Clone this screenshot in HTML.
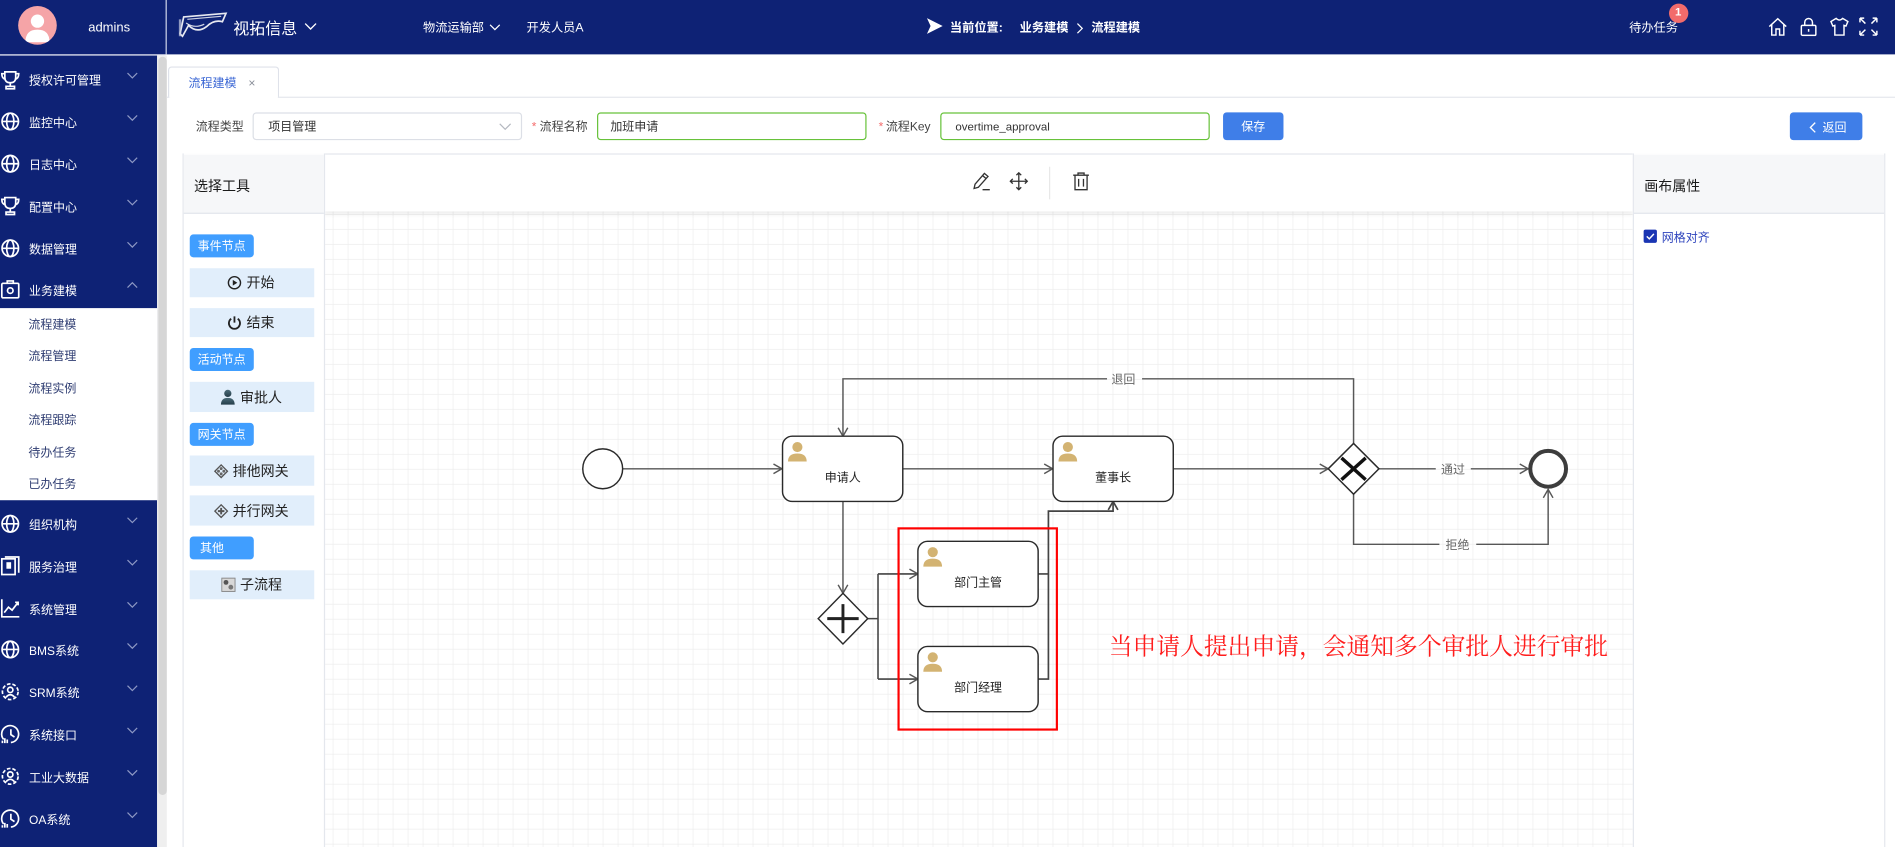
<!DOCTYPE html>
<html><head><meta charset="utf-8">
<style>
html,body{margin:0;padding:0;width:1895px;height:847px;overflow:hidden;background:#fff;}
#r{position:absolute;left:0;top:0;width:1568px;height:701px;transform:scale(1.20855,1.20827);transform-origin:0 0;font-family:"Liberation Sans","Noto Sans CJK SC",sans-serif;}
.a{position:absolute;white-space:nowrap;}
.t{position:absolute;white-space:nowrap;height:20px;line-height:24px;}
.si{position:absolute;left:24px;height:20px;line-height:25px;font-size:9.93px;color:#fff;white-space:nowrap;}
.ss{position:absolute;left:23.5px;height:20px;line-height:24px;font-size:9.93px;color:#2f3d72;white-space:nowrap;}
.ic{position:absolute;left:0px;width:17px;height:17px;}
.cv{position:absolute;left:105px;width:9px;height:6px;}
.tag{position:absolute;left:156.5px;width:53.5px;height:19px;line-height:21px;background:#409eff;border-radius:3px;color:#fff;font-size:9.93px;padding-left:0;}
.tag span{position:absolute;left:7px;top:0;}
.itm{position:absolute;left:156.5px;width:103.5px;height:24.5px;background:#e1eefb;}
.it{position:absolute;height:20px;line-height:23px;font-size:11.58px;color:#222;white-space:nowrap;}
</style></head><body>
<div id="r">

<!-- HEADER -->
<div class="a" style="left:0;top:0;width:1568px;height:45px;background:#0e2275"></div>
<div class="a" style="left:137px;top:0;width:1px;height:45px;background:#cfd4ea"></div>
<div class="a" style="left:0;top:45px;width:137px;height:1px;background:#e6e8f2"></div>
<div class="a" style="left:15px;top:5px;width:32px;height:32px;border-radius:50%;background:#f5a4a7;overflow:hidden">
<svg width="32" height="32" viewBox="0 0 32 32"><circle cx="16" cy="12.5" r="5.5" fill="#fff"/><path d="M6 30 Q6 19.5 16 19.5 Q26 19.5 26 30 Z" fill="#fff"/></svg></div>
<div class="t" style="left:73px;top:11px;font-size:10.76px;color:#fff">admins</div>
<svg class="a" style="left:147px;top:8px" width="44" height="26" viewBox="0 0 44 26">
<path d="M5 6 L40 3 L37 10 Q30 8 24 14 Q16 20 9 13 L4 22 L2 20 Z" fill="none" stroke="#fff" stroke-width="1.4" opacity=".9"/>
<path d="M8 8 L36 5.5 M7 11 Q14 16 22 12" stroke="#fff" stroke-width="1" fill="none" opacity=".8"/>
<path d="M2 8 V22" stroke="#c8cce0" stroke-width="2" opacity=".7"/></svg>
<div class="t" style="left:193px;top:12px;font-size:13.24px;color:#fff">视拓信息</div>
<svg class="a" style="left:252px;top:19px" width="10" height="6"><polyline points="0.5,0.5 5,5 9.5,0.5" fill="none" stroke="#fff" stroke-width="1.1"/></svg>
<div class="t" style="left:350px;top:12px;font-size:10.1px;color:#fff">物流运输部</div>
<svg class="a" style="left:405px;top:20px" width="9" height="6"><polyline points="0.5,0.5 4.5,4.5 8.5,0.5" fill="none" stroke="#fff" stroke-width="1"/></svg>
<div class="t" style="left:435.7px;top:12px;font-size:10.1px;color:#fff">开发人员A</div>
<svg class="a" style="left:766px;top:14px" width="15" height="15"><polygon points="1,1 14,7.5 1,14 4,7.5" fill="#fff"/></svg>
<div class="t" style="left:786px;top:12px;font-size:10.1px;color:#fff;font-weight:bold">当前位置:</div>
<div class="t" style="left:843.7px;top:12px;font-size:10.1px;color:#fff;font-weight:bold">业务建模</div>
<svg class="a" style="left:891px;top:18.5px" width="6" height="9"><polyline points="0.5,0.5 4.5,4.5 0.5,8.5" fill="none" stroke="#fff" stroke-width="1"/></svg>
<div class="t" style="left:903px;top:12px;font-size:10.1px;color:#fff;font-weight:bold">流程建模</div>
<div class="t" style="left:1348px;top:12px;font-size:10.1px;color:#fff">待办任务</div>
<div class="a" style="left:1380.6px;top:3px;width:16px;height:16px;border-radius:50%;background:#f26b6b;color:#fff;font-size:9.5px;line-height:16px;text-align:center;font-weight:bold">1</div>
<svg class="a" style="left:1463px;top:13.5px" width="16" height="16" viewBox="0 0 16 16" fill="none" stroke="#fff" stroke-width="1.2"><path d="M1 8 L8 1.5 L15 8 M3 6.5 V15 H6.5 V10 H9.5 V15 H13 V6.5"/></svg>
<svg class="a" style="left:1489px;top:13.5px" width="15" height="16" viewBox="0 0 15 16" fill="none" stroke="#fff" stroke-width="1.2"><rect x="1.5" y="7" width="12" height="8.3" rx="1"/><path d="M4.3 7 V4.5 A3.2 3.2 0 0 1 10.7 4.5 V7 M7.5 10 V12.3"/></svg>
<svg class="a" style="left:1513.5px;top:13.5px" width="16" height="16" viewBox="0 0 16 16" fill="none" stroke="#fff" stroke-width="1.2"><path d="M5.3 1.2 L1 3.8 L2.6 7.6 L4.2 7 V15 H11.8 V7 L13.4 7.6 L15 3.8 L10.7 1.2 Q8 4 5.3 1.2 Z"/></svg>
<svg class="a" style="left:1538px;top:13.5px" width="16" height="16" viewBox="0 0 16 16" fill="none" stroke="#fff" stroke-width="1.2"><path d="M1 1 L5.5 5.5 M1 1 H4.5 M1 1 V4.5 M15 1 L10.5 5.5 M15 1 H11.5 M15 1 V4.5 M1 15 L5.5 10.5 M1 15 H4.5 M1 15 V11.5 M15 15 L10.5 10.5 M15 15 H11.5 M15 15 V11.5"/></svg>

<!-- SIDEBAR -->
<div class="a" style="left:0;top:46px;width:130px;height:655px;background:#0e2275"></div>
<div class="a" style="left:0;top:255px;width:130px;height:159px;background:#fff"></div>
<div class="a" style="left:130px;top:46px;width:8px;height:655px;background:#efefef"></div>
<div class="a" style="left:130.5px;top:47px;width:7px;height:611px;background:#d6d6d6;border-radius:3.5px"></div>

<svg class="ic" style="top:57.5px" viewBox="0 0 17 17" fill="none" stroke="#fff" stroke-width="1.4"><path d="M4 1.5 H13 V6 Q13 10.5 8.5 10.5 Q4 10.5 4 6 Z M4 3 H1.5 Q1.5 7 4.5 7.5 M13 3 H15.5 Q15.5 7 12.5 7.5 M8.5 10.5 V13.5 M5 15.5 H12 V13.5 H5 Z"/></svg>
<div class="si" style="top:55.4px">授权许可管理</div>
<svg class="cv" style="top:60.4px"><polyline points="0.5,0.5 4.5,4.5 8.5,0.5" fill="none" stroke="#8d98c4" stroke-width="1"/></svg>

<svg class="ic" style="top:92.2px" viewBox="0 0 17 17" fill="none" stroke="#fff" stroke-width="1.4"><circle cx="8.5" cy="8.5" r="6.8"/><ellipse cx="8.5" cy="8.5" rx="3" ry="6.8"/><path d="M1.7 8.5 H15.3"/></svg>
<div class="si" style="top:90.2px">监控中心</div>
<svg class="cv" style="top:95.2px"><polyline points="0.5,0.5 4.5,4.5 8.5,0.5" fill="none" stroke="#8d98c4" stroke-width="1"/></svg>

<svg class="ic" style="top:127px" viewBox="0 0 17 17" fill="none" stroke="#fff" stroke-width="1.4"><circle cx="8.5" cy="8.5" r="6.8"/><ellipse cx="8.5" cy="8.5" rx="3" ry="6.8"/><path d="M1.7 8.5 H15.3"/></svg>
<div class="si" style="top:125px">日志中心</div>
<svg class="cv" style="top:130px"><polyline points="0.5,0.5 4.5,4.5 8.5,0.5" fill="none" stroke="#8d98c4" stroke-width="1"/></svg>

<svg class="ic" style="top:162px" viewBox="0 0 17 17" fill="none" stroke="#fff" stroke-width="1.4"><path d="M4 1.5 H13 V6 Q13 10.5 8.5 10.5 Q4 10.5 4 6 Z M4 3 H1.5 Q1.5 7 4.5 7.5 M13 3 H15.5 Q15.5 7 12.5 7.5 M8.5 10.5 V13.5 M5 15.5 H12 V13.5 H5 Z"/></svg>
<div class="si" style="top:160px">配置中心</div>
<svg class="cv" style="top:165px"><polyline points="0.5,0.5 4.5,4.5 8.5,0.5" fill="none" stroke="#8d98c4" stroke-width="1"/></svg>

<svg class="ic" style="top:196.7px" viewBox="0 0 17 17" fill="none" stroke="#fff" stroke-width="1.4"><circle cx="8.5" cy="8.5" r="6.8"/><ellipse cx="8.5" cy="8.5" rx="3" ry="6.8"/><path d="M1.7 8.5 H15.3"/></svg>
<div class="si" style="top:194.7px">数据管理</div>
<svg class="cv" style="top:199.7px"><polyline points="0.5,0.5 4.5,4.5 8.5,0.5" fill="none" stroke="#8d98c4" stroke-width="1"/></svg>

<svg class="ic" style="top:231.4px" viewBox="0 0 17 17" fill="none" stroke="#fff" stroke-width="1.4"><rect x="1.5" y="3.5" width="14" height="12" rx="1"/><path d="M6 3.5 V1.5 H11 V3.5"/><circle cx="8.5" cy="9.5" r="2.3"/></svg>
<div class="si" style="top:229.4px">业务建模</div>
<svg class="cv" style="top:233.4px"><polyline points="0.5,5 4.5,1 8.5,5" fill="none" stroke="#8d98c4" stroke-width="1"/></svg>

<div class="ss" style="top:257.6px">流程建模</div>
<div class="ss" style="top:284.3px">流程管理</div>
<div class="ss" style="top:310.8px">流程实例</div>
<div class="ss" style="top:337px">流程跟踪</div>
<div class="ss" style="top:363.7px">待办任务</div>
<div class="ss" style="top:390px">已办任务</div>

<svg class="ic" style="top:425px" viewBox="0 0 17 17" fill="none" stroke="#fff" stroke-width="1.4"><circle cx="8.5" cy="8.5" r="6.8"/><ellipse cx="8.5" cy="8.5" rx="3" ry="6.8"/><path d="M1.7 8.5 H15.3"/></svg>
<div class="si" style="top:423px">组织机构</div>
<svg class="cv" style="top:428px"><polyline points="0.5,0.5 4.5,4.5 8.5,0.5" fill="none" stroke="#8d98c4" stroke-width="1"/></svg>

<svg class="ic" style="top:460px" viewBox="0 0 17 17" fill="none" stroke="#fff" stroke-width="1.4"><rect x="1.5" y="2.5" width="11" height="13"/><path d="M4 1 H15.5 V14"/><rect x="6" y="6" width="2.5" height="4" fill="#fff"/></svg>
<div class="si" style="top:458px">服务治理</div>
<svg class="cv" style="top:463px"><polyline points="0.5,0.5 4.5,4.5 8.5,0.5" fill="none" stroke="#8d98c4" stroke-width="1"/></svg>

<svg class="ic" style="top:494.5px" viewBox="0 0 17 17" fill="none" stroke="#fff" stroke-width="1.4"><path d="M1.5 1 V15.5 H16 M3.5 12 L7 7.5 L10 10 L15 3.5 M12.5 3.5 H15 V6"/></svg>
<div class="si" style="top:492.6px">系统管理</div>
<svg class="cv" style="top:497.6px"><polyline points="0.5,0.5 4.5,4.5 8.5,0.5" fill="none" stroke="#8d98c4" stroke-width="1"/></svg>

<svg class="ic" style="top:529.3px" viewBox="0 0 17 17" fill="none" stroke="#fff" stroke-width="1.4"><circle cx="8.5" cy="8.5" r="6.8"/><ellipse cx="8.5" cy="8.5" rx="3" ry="6.8"/><path d="M1.7 8.5 H15.3"/></svg>
<div class="si" style="top:527.3px">BMS系统</div>
<svg class="cv" style="top:532.3px"><polyline points="0.5,0.5 4.5,4.5 8.5,0.5" fill="none" stroke="#8d98c4" stroke-width="1"/></svg>

<svg class="ic" style="top:564.4px" viewBox="0 0 17 17" fill="none" stroke="#fff" stroke-width="1.4"><circle cx="8.5" cy="8.5" r="6.5" stroke-dasharray="3 1.6"/><circle cx="8.5" cy="7" r="2.2"/><path d="M5 13 Q8.5 9 12 13"/></svg>
<div class="si" style="top:562.4px">SRM系统</div>
<svg class="cv" style="top:567.4px"><polyline points="0.5,0.5 4.5,4.5 8.5,0.5" fill="none" stroke="#8d98c4" stroke-width="1"/></svg>

<svg class="ic" style="top:599px" viewBox="0 0 17 17" fill="none" stroke="#fff" stroke-width="1.4"><path d="M3 13 A7 7 0 1 1 9 15.5 M9 4.5 V9 L12 11 M2 16 V14 M4 16 V12 M6 16 V13"/></svg>
<div class="si" style="top:597px">系统接口</div>
<svg class="cv" style="top:602px"><polyline points="0.5,0.5 4.5,4.5 8.5,0.5" fill="none" stroke="#8d98c4" stroke-width="1"/></svg>

<svg class="ic" style="top:634px" viewBox="0 0 17 17" fill="none" stroke="#fff" stroke-width="1.4"><circle cx="8.5" cy="8.5" r="6.5" stroke-dasharray="3 1.6"/><circle cx="8.5" cy="7" r="2.2"/><path d="M5 13 Q8.5 9 12 13"/></svg>
<div class="si" style="top:632px">工业大数据</div>
<svg class="cv" style="top:637px"><polyline points="0.5,0.5 4.5,4.5 8.5,0.5" fill="none" stroke="#8d98c4" stroke-width="1"/></svg>

<svg class="ic" style="top:668.5px" viewBox="0 0 17 17" fill="none" stroke="#fff" stroke-width="1.4"><path d="M3 13 A7 7 0 1 1 9 15.5 M9 4.5 V9 L12 11 M2 16 V14 M4 16 V12 M6 16 V13"/></svg>
<div class="si" style="top:666.6px">OA系统</div>
<svg class="cv" style="top:671.6px"><polyline points="0.5,0.5 4.5,4.5 8.5,0.5" fill="none" stroke="#8d98c4" stroke-width="1"/></svg>

<!-- TAB -->
<div class="a" style="left:139px;top:54.6px;width:90px;height:25.4px;border:1px solid #dfe2ea;border-bottom:none;border-radius:3px 3px 0 0;background:#fff"></div>
<div class="a" style="left:230px;top:80px;width:1338px;height:1px;background:#e4e7ed"></div>
<div class="a" style="left:138px;top:80px;width:2px;height:1px;background:#e4e7ed"></div>
<div class="t" style="left:156px;top:58.4px;font-size:9.93px;color:#3a66d4">流程建模</div>
<div class="t" style="left:205.5px;top:58.4px;font-size:10px;color:#8a8f99">×</div>

<!-- FORM -->
<div class="t" style="left:162px;top:94px;font-size:9.93px;color:#444">流程类型</div>
<div class="a" style="left:209px;top:93px;width:221px;height:21px;border:1px solid #dcdfe6;border-radius:3px;background:#fff"></div>
<div class="t" style="left:222px;top:94px;font-size:9.93px;color:#333">项目管理</div>
<svg class="a" style="left:413px;top:101.5px" width="10" height="6"><polyline points="0.5,0.5 5,5 9.5,0.5" fill="none" stroke="#b4b8c0" stroke-width="1"/></svg>
<div class="t" style="left:440px;top:94px;font-size:9.93px;color:#f56c6c">*</div>
<div class="t" style="left:446.5px;top:94px;font-size:9.93px;color:#444">流程名称</div>
<div class="a" style="left:493.8px;top:93px;width:221px;height:21px;border:1px solid #67c23a;border-radius:3px;background:#fff"></div>
<div class="t" style="left:505px;top:94px;font-size:9.93px;color:#333">加班申请</div>
<div class="t" style="left:727px;top:94px;font-size:9.93px;color:#f56c6c">*</div>
<div class="t" style="left:733px;top:94px;font-size:9.93px;color:#444">流程Key</div>
<div class="a" style="left:777.8px;top:93px;width:221px;height:21px;border:1px solid #67c23a;border-radius:3px;background:#fff"></div>
<div class="t" style="left:790.5px;top:94px;font-size:9.5px;color:#333">overtime_approval</div>
<div class="a" style="left:1012px;top:93px;width:50px;height:23px;background:#3f7ee8;border-radius:3px;color:#fff;font-size:9.93px;line-height:25px;text-align:center">保存</div>
<div class="a" style="left:1481px;top:93px;width:60px;height:23px;background:#3f7ee8;border-radius:3px"></div>
<svg class="a" style="left:1497px;top:100.5px" width="6" height="9"><polyline points="5,0.5 1,4.5 5,8.5" fill="none" stroke="#fff" stroke-width="1.1"/></svg>
<div class="t" style="left:1508px;top:94.5px;font-size:9.93px;color:#fff">返回</div>

<div class="a" style="left:151px;top:127px;width:1408px;height:1px;background:#e4e7ed"></div>

<!-- CANVAS GRID + DIAGRAM -->
<svg class="a" style="left:0;top:0" width="1568" height="701" viewBox="0 0 1568 701">
<defs><pattern id="gp" patternUnits="userSpaceOnUse" x="275.3" y="177.1" width="12.41" height="12.41"><path d="M0 0V12.41M0 0H12.41" stroke="#eeeeee" stroke-width="1.2" fill="none"/></pattern></defs>
<rect x="268" y="175" width="1083" height="526" fill="#fff"/>
<rect x="268" y="175" width="1083" height="526" fill="url(#gp)"/>

<g fill="none" stroke="#575757" stroke-width="1.2">
<path d="M515 388H647"/><path d="M640 384L647 388L640 392"/>
<path d="M747 388H871"/><path d="M864 384L871 388L864 392"/>
<path d="M971 388H1099"/><path d="M1092 384L1099 388L1092 392"/>
<path d="M1141 388H1188M1217 388H1264.5"/><path d="M1257.5 384L1264.5 388L1257.5 392"/>
<path d="M1120 367V313.5H945M916 313.5H697.5V361"/><path d="M693.5 354L697.5 361L701.5 354"/>
<path d="M1120 409V450.5H1191M1221.5 450.5H1281V405"/><path d="M1277 412L1281 405L1285 412"/>
<path d="M697.5 415V491"/><path d="M693.5 484L697.5 491L701.5 484"/>
<path d="M718 512H726.5M726.5 475V562M726.5 475H759.5M726.5 562H759.5" stroke="#444" stroke-width="1.3"/>
<path d="M752.5 471L759.5 475L752.5 479"/><path d="M752.5 558L759.5 562L752.5 566"/>
<path d="M859 475H867.5M859 562H867.5V423H921V415" stroke="#444" stroke-width="1.4"/>
<path d="M917 422L921 415L925 422" stroke="#444" stroke-width="1.4"/>
</g>

<g fill="#fff" stroke="#2a2a2a" stroke-width="1.2">
<rect x="647.5" y="361" width="99.5" height="54" rx="8"/>
<rect x="871.3" y="361" width="99.5" height="54" rx="8"/>
<rect x="759.5" y="448" width="99.5" height="54" rx="8"/>
<rect x="759.5" y="535" width="99.5" height="54" rx="8"/>
<circle cx="498.7" cy="388" r="16.5"/>
<polygon points="1120,367 1141,388 1120,409 1099,388"/>
<polygon points="697.5,491 718,512 697.5,533 677,512"/>
</g>
<circle cx="1281" cy="388" r="14.8" fill="#fff" stroke="#3d3d3d" stroke-width="3.3"/>
<path d="M1110 379L1130 397M1130 379L1110 397" stroke="#111" stroke-width="2.8"/>
<path d="M684.5 512H710.5M697.5 500V524" stroke="#222" stroke-width="2.4"/>

<g fill="#d3b372">
<g transform="translate(647.5,361)"><circle cx="12.3" cy="9" r="4.2"/><path d="M4.5 21Q4.5 14.3 12.3 14.3Q20 14.3 20 21Z"/></g>
<g transform="translate(871.3,361)"><circle cx="12.3" cy="9" r="4.2"/><path d="M4.5 21Q4.5 14.3 12.3 14.3Q20 14.3 20 21Z"/></g>
<g transform="translate(759.5,448)"><circle cx="12.3" cy="9" r="4.2"/><path d="M4.5 21Q4.5 14.3 12.3 14.3Q20 14.3 20 21Z"/></g>
<g transform="translate(759.5,535)"><circle cx="12.3" cy="9" r="4.2"/><path d="M4.5 21Q4.5 14.3 12.3 14.3Q20 14.3 20 21Z"/></g>
</g>

<g font-family="Liberation Sans, Noto Sans CJK SC, sans-serif" font-size="9.93" text-anchor="middle" dominant-baseline="central" fill="#222">
<text x="697.3" y="395">申请人</text>
<text x="921" y="395">董事长</text>
<text x="809.3" y="482">部门主管</text>
<text x="809.3" y="569">部门经理</text>
<text x="929.5" y="314" fill="#666">退回</text>
<text x="1202.3" y="388.5" fill="#666">通过</text>
<text x="1206" y="451" fill="#666">拒绝</text>
</g>

<rect x="743.5" y="437.3" width="131" height="166.5" fill="none" stroke="#ff0000" stroke-width="1.8"/>
<text x="917.5" y="541.8" font-family="Noto Serif CJK SC, Liberation Serif, serif" font-size="19.7" fill="#ff1c1c" textLength="413" lengthAdjust="spacingAndGlyphs">当申请人提出申请，会通知多个审批人进行审批</text>
</svg>

<!-- CANVAS TOOLBAR -->
<div class="a" style="left:268px;top:128px;width:1083px;height:47px;background:#fff;box-shadow:0 2px 4px rgba(0,0,0,0.08)"></div>
<svg class="a" style="left:804px;top:142px" width="16" height="16" viewBox="0 0 16 16" fill="none" stroke="#333" stroke-width="1.1"><path d="M10.5 1.5 L13.5 4 L5.5 13 L2 14 L2.8 10.4 Z M9 3.3 L12 5.8 M9 15 H15"/></svg>
<svg class="a" style="left:834.5px;top:142px" width="16" height="16" viewBox="0 0 16 16" fill="none" stroke="#333" stroke-width="1.1"><path d="M8 1 V15 M1 8 H15 M6 3 L8 1 L10 3 M6 13 L8 15 L10 13 M3 6 L1 8 L3 10 M13 6 L15 8 L13 10"/></svg>
<div class="a" style="left:868px;top:138px;width:1px;height:27px;background:#e8e8e8"></div>
<svg class="a" style="left:886.5px;top:142px" width="15" height="16" viewBox="0 0 15 16" fill="none" stroke="#333" stroke-width="1.1"><path d="M1 3 H14 M5 3 V1.2 H10 V3 M2.5 3 V15 H12.5 V3 M5.5 6 V12.5 M9.5 6 V12.5"/></svg>

<!-- TOOLBOX -->
<div class="a" style="left:151px;top:127px;width:116px;height:574px;border-left:1px solid #e4e7ed;border-right:1px solid #e4e7ed;background:#fff"></div>
<div class="a" style="left:152px;top:128px;width:116px;height:48px;background:#f6f7f9;border-bottom:1px solid #e2e5ec"></div>
<div class="t" style="left:160.5px;top:143px;font-size:11.58px;color:#1a1a1a">选择工具</div>

<div class="tag" style="top:194px"><span>事件节点</span></div>
<div class="itm" style="top:221.8px"></div>
<svg class="a" style="left:188.4px;top:228px" width="12" height="12" viewBox="0 0 12 12"><circle cx="6" cy="6" r="5" fill="none" stroke="#222" stroke-width="1.2"/><polygon points="4.6,3.6 8.4,6 4.6,8.4" fill="#222"/></svg>
<div class="it" style="left:204px;top:224px">开始</div>
<div class="itm" style="top:254.9px"></div>
<svg class="a" style="left:188.4px;top:261px" width="12" height="12" viewBox="0 0 12 12" fill="none" stroke="#222" stroke-width="1.5"><path d="M3.3 2.8 A4.6 4.6 0 1 0 8.7 2.8 M6 0.8 V6"/></svg>
<div class="it" style="left:204px;top:257px">结束</div>

<div class="tag" style="top:288.2px"><span>活动节点</span></div>
<div class="itm" style="top:316px"></div>
<svg class="a" style="left:182px;top:322px" width="13" height="13" viewBox="0 0 13 13"><defs><linearGradient id="pg" x1="0" y1="0" x2="0" y2="1"><stop offset="0" stop-color="#4b6b78"/><stop offset="1" stop-color="#243c48"/></linearGradient></defs><circle cx="6.5" cy="3.6" r="3" fill="url(#pg)"/><path d="M0.8 13 Q0.8 7.3 6.5 7.3 Q12.2 7.3 12.2 13Z" fill="url(#pg)"/></svg>
<div class="it" style="left:198.6px;top:318.5px">审批人</div>

<div class="tag" style="top:349.5px"><span>网关节点</span></div>
<div class="itm" style="top:377.3px"></div>
<svg class="a" style="left:177px;top:383.6px" width="12" height="12" viewBox="0 0 12 12"><polygon points="6,0.8 11.2,6 6,11.2 0.8,6" fill="none" stroke="#555" stroke-width="1.1"/><circle cx="6" cy="3.8" r="1.2" fill="#666"/><circle cx="6" cy="8.2" r="1.2" fill="#666"/><circle cx="3.8" cy="6" r="1.2" fill="#666"/><circle cx="8.2" cy="6" r="1.2" fill="#666"/></svg>
<div class="it" style="left:192.5px;top:379.6px">排他网关</div>
<div class="itm" style="top:410.4px"></div>
<svg class="a" style="left:177px;top:416.7px" width="12" height="12" viewBox="0 0 12 12"><polygon points="6,0.8 11.2,6 6,11.2 0.8,6" fill="none" stroke="#555" stroke-width="1.1"/><path d="M6 3.3 V8.7 M3.3 6 H8.7" stroke="#555" stroke-width="1.6"/></svg>
<div class="it" style="left:192.5px;top:412.7px">并行网关</div>

<div class="tag" style="top:443.5px"><span style="left:9px">其他</span></div>
<div class="itm" style="top:471.7px"></div>
<svg class="a" style="left:182.6px;top:478px" width="12" height="12" viewBox="0 0 12 12"><rect x="0.5" y="0.5" width="11" height="11" fill="#d8d8d8" stroke="#888" stroke-width="0.8"/><circle cx="4" cy="4" r="2" fill="#555"/><circle cx="8" cy="8" r="2" fill="#777"/></svg>
<div class="it" style="left:198.6px;top:474px">子流程</div>

<!-- RIGHT PANEL -->
<div class="a" style="left:1350.5px;top:127px;width:207.5px;height:574px;border-left:1px solid #e4e7ed;border-right:1px solid #e4e7ed;background:#fff"></div>
<div class="a" style="left:1351.5px;top:128px;width:207.5px;height:48px;background:#f6f7f9;border-bottom:1px solid #e2e5ec"></div>
<div class="t" style="left:1360.5px;top:143px;font-size:11.58px;color:#1a1a1a">画布属性</div>
<div class="a" style="left:1360px;top:190px;width:11px;height:11px;background:#1a35b3;border-radius:1.5px"></div>
<svg class="a" style="left:1360px;top:190px" width="11" height="11"><polyline points="2.6,5.6 4.7,7.7 8.5,3.6" fill="none" stroke="#fff" stroke-width="1.2"/></svg>
<div class="t" style="left:1375px;top:185.5px;font-size:9.93px;color:#2f45bd">网格对齐</div>

</div>
</body></html>
